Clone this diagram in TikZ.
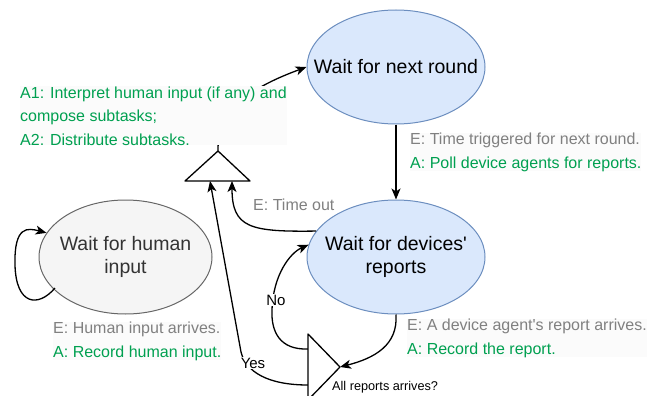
\documentclass[tikz,border=0pt]{standalone}
\usepackage{fontspec}
\setmainfont{Liberation Sans}
\usetikzlibrary{shapes.geometric,arrows.meta}
\definecolor{bluefill}{RGB}{218,232,252}
\definecolor{bluedraw}{RGB}{108,142,191}
\definecolor{grayfill}{RGB}{245,245,245}
\definecolor{graydraw}{RGB}{102,102,102}
\definecolor{graytext}{RGB}{51,51,51}
\definecolor{evgray}{RGB}{128,128,128}
\definecolor{acgreen}{RGB}{0,160,80}
\definecolor{lblbg}{RGB}{251,251,251}
\tikzset{
  state/.style={ellipse, draw=bluedraw, fill=bluefill, line width=1pt, minimum width=178pt, minimum height=114pt, inner sep=0pt},
  hstate/.style={state, draw=graydraw, fill=grayfill, minimum width=173pt},
  stext/.style={align=center, inner sep=0pt, font=\fontsize{19.5}{23}\selectfont},
  lbl/.style={anchor=base west, inner sep=0pt, font=\fontsize{16}{23.5}\selectfont, align=left},
  conn/.style={line width=1.3pt, -{Stealth[length=11pt,width=9pt,inset=3pt]}},
  tri/.style={line width=1.3pt, fill=white, line join=round},
  yn/.style={fill=white, inner sep=1pt, font=\fontsize{15}{17}\selectfont},
}
\begin{document}
\begin{tikzpicture}[x=1pt,y=-1pt]
\useasboundingbox (0,0) rectangle (656,396);
\begin{scope}
\clip (0,0) rectangle (656,396);
% states
\node[state, label={[stext]center:Wait for next round}] (nr) at (396,67) {};
\node[state, label={[stext]center:Wait for devices\textquotesingle\\reports}] (dev) at (396,257) {};
\node[hstate, label={[stext, text=graytext]center:Wait for human\\input}] (hum) at (125.5,257) {};
% triangles
\coordinate (t1a) at (218,151);
\coordinate (t1l) at (185,181);
\coordinate (t1r) at (250,181);
\coordinate (t1in1) at (210,181);
\coordinate (t1in2) at (232,181);
\coordinate (t2t) at (308,334);
\coordinate (t2b) at (308,400);
\coordinate (t2a) at (340,367);
\coordinate (t2no) at (308,349);
\coordinate (t2yes) at (308,385);
\coordinate (hs) at (55,288);
% connectors
\draw[conn] (nr.south) -- (dev.north);
\draw[conn] (dev.south) .. controls (398,345) and (375,358) .. (t2a);
\draw[conn] (t2no) .. controls (280,350) and (271,332) .. (272,310) .. controls (273,275) and (290,253) .. (dev.172);
\draw[conn] (t2yes) .. controls (268,385) and (246,372) .. (241,352) -- (t1in1);
\draw[conn] (dev.162) .. controls (250,232) and (232,228) .. (t1in2);
\draw[conn] (t1a) .. controls (217,108) and (255,86) .. (nr.west);
\draw[tri] (t1a) -- (t1l) -- (t1r) -- cycle;
\draw[tri] (t2t) -- (t2a) -- (t2b) -- cycle;
\draw[conn] (hs) .. controls (38,308) and (16,305) .. (15,265) .. controls (14,225) and (28,228) .. (hum.163);
% yes / no
\node[yn] (no) at (276,300) {No};
\node[yn] (yes) at (253,363) {Yes};
\node[anchor=base west, inner sep=0pt, font=\fontsize{12.7}{14}\selectfont] (allq) at (332,390) {All reports arrives?};
\end{scope}
% labels (base = last line baseline)
\node[lbl, fill=lblbg, text=acgreen] (a1) at (20,145) {A1: Interpret human input (if any) and\\compose subtasks;\\A2: Distribute subtasks.};
\node[lbl, fill=lblbg] (e1) at (410,168) {\textcolor{evgray}{E: Time triggered for next round.}\\\textcolor{acgreen}{A: Poll device agents for reports.}};
\node[lbl, text=evgray] (e2) at (253,210) {E: Time out};
\node[lbl, fill=lblbg] (e3) at (53,357) {\textcolor{evgray}{E: Human input arrives.}\\\textcolor{acgreen}{A: Record human input.}};
\node[lbl, fill=lblbg] (e4) at (407,354) {\textcolor{evgray}{E: A device agent\textquotesingle s report arrives.}\\\textcolor{acgreen}{A: Record the report.}};
\end{tikzpicture}
\end{document}
